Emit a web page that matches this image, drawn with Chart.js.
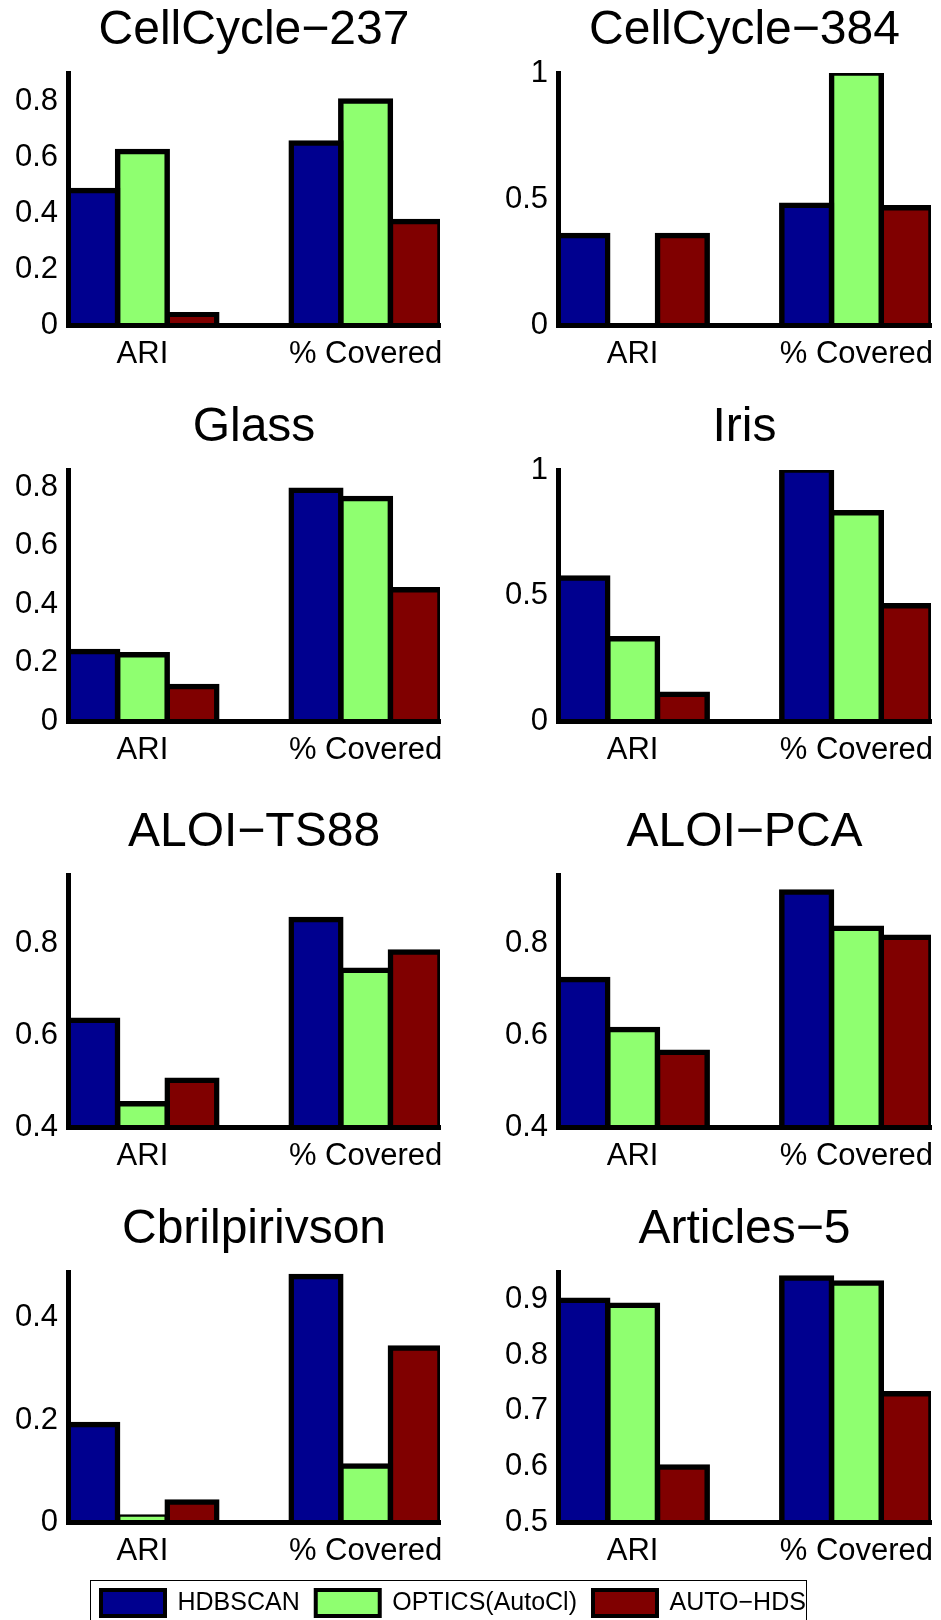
<!DOCTYPE html>
<html>
<head>
<meta charset="utf-8">
<script src="https://cdn.jsdelivr.net/npm/chart.js@4"></script>
<style>
html,body{margin:0;padding:0;background:#fff;width:941px;height:1620px;overflow:hidden;position:relative}
.panel{position:absolute}
.legend-frame{position:absolute;left:90px;top:1580px;width:717px;height:60px;border:1px solid #000;box-sizing:border-box}
</style>
</head>
<body>
<div class="legend-frame"></div>
<script>
// ---------- data ----------
const groups = ['ARI', '% Covered'];
const methods = ['HDBSCAN', 'OPTICS(AutoCl)', 'AUTO\u2212HDS'];
const titles = ['CellCycle\u2212237', 'CellCycle\u2212384', 'Glass', 'Iris',
                'ALOI\u2212TS88', 'ALOI\u2212PCA', 'Cbrilpirivson', 'Articles\u22125'];

// values per panel: [ARI, % Covered]
const hdbscan = [[0.48, 0.65], [0.355, 0.475], [0.238, 0.791], [0.570, 1.0],
                 [0.633, 0.853], [0.722, 0.913], [0.191, 0.481], [0.899, 0.939]];
const optics  = [[0.62, 0.80], [0.0, 1.0], [0.227, 0.762], [0.328, 0.830],
                 [0.451, 0.742], [0.613, 0.834], [0.010, 0.110], [0.890, 0.930]];
const autohds = [[0.037, 0.37], [0.355, 0.465], [0.118, 0.450], [0.107, 0.459],
                 [0.502, 0.782], [0.563, 0.814], [0.039, 0.341], [0.599, 0.731]];

const yMin = [0, 0, 0, 0, 0.4, 0.4, 0, 0.5];
const yMax = [0.9, 1, 0.86, 1, 0.95, 0.95, 0.49, 0.95];
const yTicks = [[0, 0.2, 0.4, 0.6, 0.8], [0, 0.5, 1], [0, 0.2, 0.4, 0.6, 0.8], [0, 0.5, 1],
                [0.4, 0.6, 0.8], [0.4, 0.6, 0.8], [0, 0.2, 0.4], [0.5, 0.6, 0.7, 0.8, 0.9]];
const yTickLabels = [['0', '0.2', '0.4', '0.6', '0.8'], ['0', '0.5', '1'], ['0', '0.2', '0.4', '0.6', '0.8'], ['0', '0.5', '1'],
                     ['0.4', '0.6', '0.8'], ['0.4', '0.6', '0.8'], ['0', '0.2', '0.4'], ['0.5', '0.6', '0.7', '0.8', '0.9']];

// ---------- styles / layout ----------
const FONT = "'Liberation Sans', Arial, Helvetica, sans-serif";
Chart.defaults.font.family = FONT;
Chart.defaults.color = '#000';
const colors = ['#00008f', '#8fff70', '#800000'];
const seriesList = [hdbscan, optics, autohds];

const cols = [
  {left: 0, width: 470, yW: 68, padR: 30},
  {left: 470, width: 471, yW: 88, padR: 10}
];
const rowTop = [73, 470, 875, 1272];
const rowBottom = [325, 721, 1127, 1522];
const ABOVE = 80;   // space above plot area inside canvas
const XH = 48;      // x-axis box height
const TITLE_SIZE = 48, TITLE_PAD_BOTTOM = 13;
const BAR_EDGE = 5.5, AXIS_W = 5;

function makePanel(p) {
  const col = cols[p % 2];
  const row = Math.floor(p / 2);
  const plotH = rowBottom[row] - rowTop[row];
  const H = ABOVE + plotH + XH;
  const div = document.createElement('div');
  div.className = 'panel';
  div.style.left = col.left + 'px';
  div.style.top = (rowTop[row] - ABOVE) + 'px';
  div.style.width = col.width + 'px';
  div.style.height = H + 'px';
  const cv = document.createElement('canvas');
  cv.width = col.width; cv.height = H;
  div.appendChild(cv);
  document.body.appendChild(div);

  const titleBox = TITLE_SIZE * 1.2 + TITLE_PAD_BOTTOM;
  new Chart(cv, {
    type: 'bar',
    data: {
      datasets: methods.map((m, k) => ({
        label: m,
        data: seriesList[k][p].map((v, i) => ({x: i + 1, y: v})),
        backgroundColor: colors[k],
        borderColor: '#000',
        borderWidth: BAR_EDGE,
        inflateAmount: BAR_EDGE / 2,
        borderSkipped: 'start',
        categoryPercentage: 2 / 3,
        barPercentage: 1
      }))
    },
    options: {
      responsive: false,
      animation: false,
      events: [],
      layout: {padding: {top: ABOVE - titleBox, right: col.padR, left: 0, bottom: 0}},
      plugins: {
        legend: {display: false},
        tooltip: {enabled: false},
        title: {
          display: true, text: titles[p], fullSize: false, color: '#000',
          font: {size: TITLE_SIZE, weight: 'normal', family: FONT},
          padding: {top: 0, bottom: TITLE_PAD_BOTTOM}
        }
      },
      scales: {
        x: {
          type: 'linear', min: 2 / 3, max: 7 / 3, offset: false,
          grid: {display: false, drawTicks: false, offset: false},
          border: {display: true, color: '#000', width: AXIS_W, z: 1},
          ticks: {font: {size: 31}, color: '#000', padding: 11, autoSkip: false, maxRotation: 0,
                  callback: (v, i) => groups[i]},
          afterBuildTicks: s => { s.ticks = groups.map((g, i) => ({value: i + 1})); },
          afterFit: s => { s.height = XH; s.paddingLeft = 0; s.paddingRight = 0; }
        },
        y: {
          type: 'linear', min: yMin[p], max: yMax[p],
          grid: {display: false, drawTicks: false},
          border: {display: true, color: '#000', width: AXIS_W, z: 1},
          ticks: {font: {size: 31}, color: '#000', padding: 10, autoSkip: false,
                  callback: (v, i) => yTickLabels[p][i]},
          afterBuildTicks: s => { s.ticks = yTicks[p].map(v => ({value: v})); },
          afterFit: s => { s.width = col.yW; s.paddingTop = 0; s.paddingBottom = 0; }
        }
      }
    }
  });
}

for (let p = 0; p < titles.length; p++) makePanel(p);

// ---------- legend ----------
(function () {
  const div = document.createElement('div');
  div.className = 'panel';
  div.style.left = '85px';
  div.style.top = '1574px';
  div.style.width = '760px';
  div.style.height = '140px';
  const cv = document.createElement('canvas');
  cv.width = 760; cv.height = 140;
  div.appendChild(cv);
  document.body.appendChild(div);
  new Chart(cv, {
    type: 'bar',
    data: {
      labels: [],
      datasets: methods.map((m, k) => ({
        label: m, data: [], backgroundColor: colors[k], borderColor: '#000', borderWidth: 4
      }))
    },
    options: {
      responsive: false,
      animation: false,
      events: [],
      layout: {padding: 0},
      scales: {x: {display: false}, y: {display: false}},
      plugins: {
        tooltip: {enabled: false},
        legend: {
          display: true, position: 'top', align: 'start',
          labels: {boxWidth: 64, boxHeight: 26, padding: 16, color: '#000', font: {size: 25, family: FONT}}
        }
      }
    }
  });
})();
</script>
</body>
</html>
